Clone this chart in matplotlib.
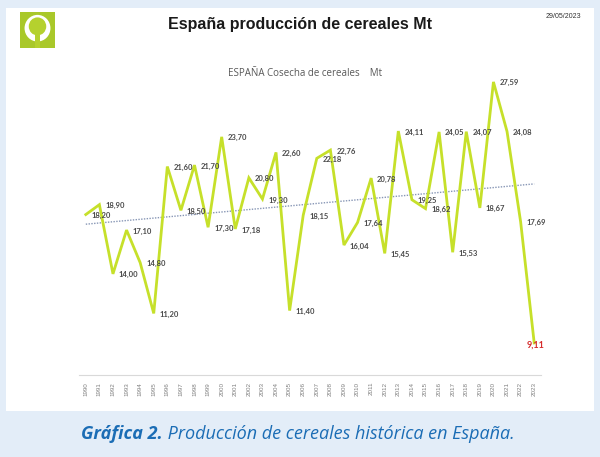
import numpy as np
import matplotlib
matplotlib.use("Agg")
import matplotlib.pyplot as plt
from matplotlib.patches import Rectangle, Circle

years = list(range(1990, 2024))
cosecha = [18.20, 18.90, 14.00, 17.10, 14.80, 11.20, 21.60, 18.50, 21.70, 17.30,
           23.70, 17.18, 20.80, 19.30, 22.60, 11.40, 18.15, 22.18, 22.76, 16.04,
           17.64, 20.78, 15.45, 24.11, 19.25, 18.62, 24.05, 15.53, 24.07, 18.67,
           27.59, 24.08, 17.69, 9.11]
etiquetas = [f"{v:.2f}".replace(".", ",") for v in cosecha]

W, H = 600, 457
fig = plt.figure(figsize=(W / 100, H / 100), dpi=100, facecolor="#e3edf8")

# white panel
fig.add_artist(Rectangle((6 / W, 1 - 411 / H), 588 / W, 403 / H, zorder=-10,
                         transform=fig.transFigure, facecolor="white", edgecolor="none"))

# logo
lax = fig.add_axes([20 / W, 1 - 48 / H, 35 / W, 36 / H])
lax.set_xlim(0, 1)
lax.set_ylim(0, 1)
lax.axis("off")
verde = "#a9c82a"
lax.add_patch(Rectangle((0, 0), 1, 1, facecolor=verde, edgecolor="none"))
lax.add_patch(Circle((0.5, 0.55), 0.37, facecolor="white", edgecolor="none"))
lax.add_patch(Circle((0.5, 0.6), 0.25, facecolor="#b5d12e", edgecolor="none"))
lax.add_patch(Rectangle((0.44, 0.0), 0.12, 0.45, facecolor="#b5d12e", edgecolor="none"))

fig.text(0.5, 1 - 25 / H, "España producción de cereales Mt", ha="center", va="center",
         fontsize=11.5, fontweight="bold", family="Liberation Sans", color="#1a1a1a")
fig.text(563 / W, 1 - 17 / H, "29/05/2023", ha="center", va="center",
         fontsize=5, family="Liberation Sans", color="#333333")
fig.text(305 / W, 1 - 74 / H, "ESPAÑA Cosecha de cereales    Mt", ha="center", va="center",
         fontsize=7, family="Open Sans", color="#595959")

ax = fig.add_axes([79 / W, 1 - 375 / H, 462 / W, 313 / H])
ax.set_xlim(1989.5, 2023.5)
ax.set_ylim(6.84, 29.0)
ax.set_facecolor("none")

# trend line
coef = np.polyfit(years, cosecha, 1)
ax.plot(years, np.polyval(coef, years), color="#8796b5", lw=1.0, ls=(0, (1, 1)))

ax.plot(years, cosecha, color="#c6e02a", lw=2.0, solid_joinstyle="miter")

for i, (x, y, t) in enumerate(zip(years, cosecha, etiquetas)):
    if i == len(years) - 1:
        ax.annotate(t, (x, y), xytext=(1, -2), textcoords="offset pixels",
                    ha="center", va="center", fontsize=6.5, fontweight="bold",
                    family="Lato", color="#d62b2b")
    else:
        ax.annotate(t, (x, y), xytext=(6, -1), textcoords="offset pixels",
                    ha="left", va="center", fontsize=5.5, fontweight="bold",
                    family="Lato", color="#4a4a4a")

for s in ["top", "right", "left"]:
    ax.spines[s].set_visible(False)
ax.spines["bottom"].set_color("#d9d9d9")
ax.spines["bottom"].set_linewidth(0.8)
ax.set_yticks([])
ax.set_xticks(years)
ax.set_xticklabels([str(y) for y in years], rotation=90, fontsize=4.5,
                   family="Liberation Sans", color="#7f7f7f")
ax.tick_params(axis="x", length=0, pad=5)

t1 = fig.text(81 / W, 1 - 434 / H, "Gráfica 2.", ha="left", va="center",
              fontsize=13, fontweight="bold", style="italic", family="Open Sans", color="#1b6db5")
t2 = fig.text(0, 0, " Producción de cereales histórica en España.",
              fontsize=13, style="italic", family="Open Sans", color="#1b6db5",
              ha="left", va="center")
fig.canvas.draw()
bb = t1.get_window_extent()
t2.set_position((bb.x1 / W, 1 - 434 / H))

fig.savefig("out.png", dpi=100, facecolor=fig.get_facecolor())
